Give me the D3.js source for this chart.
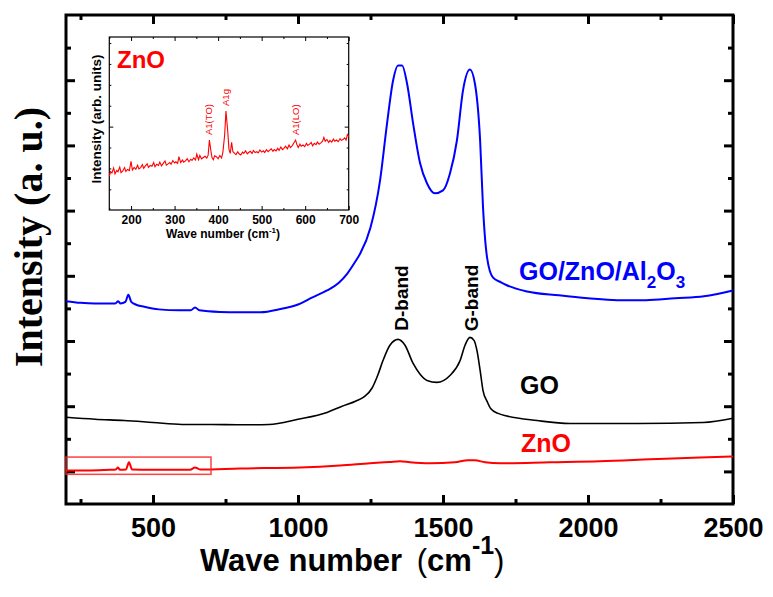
<!DOCTYPE html>
<html>
<head>
<meta charset="utf-8">
<script src="https://cdn.jsdelivr.net/npm/d3@7"></script>
<style>
  body { margin: 0; background: #fff; }
</style>
</head>
<body>
<svg id="chart" width="773" height="597" font-family="'Liberation Sans', Arial, sans-serif"></svg>
<script>
// Raman spectra: [wave number (cm-1), intensity (a.u., offset)]
var hybridSpec = [
  [200,5.22],[250,5.17],[300,5.15],[360,5.15],[370,5.15],[380,5.22],[388,5.15],[405,5.20],
  [415,5.42],[425,5.20],[440,5.12],[470,5.05],[520,4.97],[590,4.94],[630,4.94],[645,5.03],
  [660,4.94],[730,4.89],[800,4.88],[870,4.88],[940,4.98],[1000,5.12],[1050,5.34],[1100,5.55],
  [1140,5.78],[1170,6.07],[1200,6.47],[1215,6.69],[1250,7.48],[1283,8.93],[1307,10.67],[1328,12.0],
  [1345,12.45],[1359,12.45],[1376,11.9],[1397,10.67],[1421,9.45],[1445,8.83],[1472,8.53],
  [1500,8.62],[1524,9.14],[1548,10.15],[1569,11.69],[1593,12.33],[1610,11.9],[1628,10.15],
  [1638,8.10],[1652,6.56],[1672,5.95],[1700,5.80],[1720,5.71],[1790,5.52],[1900,5.40],
  [2000,5.31],[2100,5.25],[2200,5.25],[2300,5.31],[2400,5.37],[2500,5.55]
];
var goSpec = [
  [200,1.66],[300,1.60],[400,1.56],[500,1.50],[600,1.44],[700,1.44],[800,1.43],[900,1.44],
  [1000,1.60],[1100,1.81],[1150,1.99],[1200,2.16],[1230,2.30],[1255,2.55],[1275,2.95],[1293,3.40],
  [1317,3.87],[1345,4.05],[1369,3.87],[1397,3.31],[1421,2.98],[1445,2.79],[1479,2.73],
  [1524,2.94],[1559,3.40],[1576,3.87],[1593,4.11],[1607,4.02],[1617,3.71],[1628,3.10],
  [1638,2.48],[1652,2.15],[1665,1.92],[1690,1.78],[1720,1.70],[1824,1.56],[1938,1.47],[2169,1.47],
  [2397,1.50],[2500,1.63]
];
var znoSpec = [
  [200,0.03],[283,0.03],[352,0.05],[372,0.06],[379,0.12],[386,0.05],[407,0.06],[417,0.28],
  [428,0.06],[490,0.05],[628,0.05],[645,0.12],[662,0.06],[800,0.09],[1007,0.12],[1145,0.18],
  [1248,0.25],[1317,0.29],[1352,0.31],[1386,0.28],[1455,0.25],[1541,0.28],[1586,0.34],
  [1610,0.34],[1645,0.28],[1697,0.25],[1869,0.28],[2041,0.31],[2214,0.37],[2386,0.43],[2500,0.46]
];
// inset: ZnO low wave number region
var znoInset = [
  [150,2.62],[153,2.85],[156,2.78],[160,3.02],[163,2.74],[167,2.90],[170,2.84],[174,3.06],
  [177,2.80],[181,2.88],[185,3.04],[188,2.86],[192,2.95],[196,2.90],[200,3.34],[203,2.92],
  [207,3.05],[211,2.96],[215,3.15],[218,2.98],[222,3.04],[226,3.18],[229,3.00],[233,3.12],
  [237,3.22],[240,3.05],[244,3.14],[248,3.10],[252,3.28],[255,3.08],[259,3.20],[263,3.14],
  [266,3.30],[270,3.12],[274,3.24],[278,3.36],[281,3.16],[285,3.22],[289,3.28],[292,3.20],
  [296,3.38],[300,3.26],[303,3.32],[307,3.24],[310,3.56],[314,3.28],[318,3.40],[321,3.30],
  [325,3.36],[329,3.46],[333,3.32],[337,3.44],[340,3.38],[344,3.50],[348,3.40],[351,3.68],
  [355,3.42],[358,3.62],[362,3.46],[366,3.52],[370,3.58],[374,3.50],[377,3.62],[380,4.36],
  [383,3.90],[386,3.52],[389,3.42],[392,3.60],[396,3.56],[400,3.46],[404,3.62],[408,3.50],
  [411,3.78],[415,4.60],[418,5.75],[422,4.80],[425,3.90],[428,3.72],[431,4.25],[434,3.80],
  [438,3.72],[441,3.66],[445,3.80],[448,3.70],[452,3.64],[456,3.78],[459,3.72],[463,3.84],
  [467,3.70],[470,3.76],[474,3.82],[478,3.72],[481,3.86],[485,3.76],[489,3.80],[492,3.74],
  [496,3.88],[500,3.78],[504,3.84],[507,3.76],[511,3.90],[515,3.80],[518,3.86],[522,3.94],
  [526,3.82],[529,3.90],[533,3.84],[537,3.96],[540,3.86],[544,4.02],[548,3.90],[551,3.96],
  [555,4.06],[559,3.94],[563,4.12],[566,4.00],[570,4.08],[574,4.22],[578,4.36],[581,4.14],
  [584,4.00],[588,4.16],[591,4.06],[595,4.12],[599,4.04],[603,4.20],[606,4.10],[610,4.16],
  [614,4.24],[617,4.08],[621,4.20],[625,4.14],[628,4.26],[632,4.16],[636,4.22],[640,4.30],
  [643,4.48],[646,4.30],[650,4.38],[654,4.24],[657,4.34],[661,4.26],[665,4.40],[668,4.30],
  [672,4.36],[676,4.28],[680,4.42],[683,4.34],[687,4.38],[691,4.46],[694,4.36],[697,4.62],[700,4.52]
];

var xMajor = [500, 1000, 1500, 2000, 2500];
var xMinor = [250, 750, 1250, 1750, 2250];
var yMajor = [0, 2, 4, 6, 8, 10, 12];
var yMinor = [1, 3, 5, 7, 9, 11, 13];
var insetXMajor = [200, 300, 400, 500, 600, 700];
var insetXMinor = [150, 250, 350, 450, 550, 650];
var insetYMajor = [5];
var insetYMinor = [2, 3, 4, 6, 7, 8, 9];
var insetPeaks = [
  {label: "A1(TO)", w: 380, v: 4.36},
  {label: "A1g", w: 418, v: 5.75},
  {label: "A1(LO)", w: 578, v: 4.36}
];
var zoomBox = {w0: 200, w1: 700, v0: -0.09, v1: 0.44};

var svg = d3.select("#chart");

var x = d3.scaleLinear().domain([200, 2500]).range([66, 733]);
var y = d3.scaleLinear().domain([-1, 14]).range([504, 15]);

function styleAxis(g, w) {
  g.select(".domain").remove();
  g.selectAll("line").attr("stroke", "#000").attr("stroke-width", w);
}

// main axes, ticks pointing inward
svg.append("g").attr("transform", "translate(0,504)")
  .call(d3.axisBottom(x).tickValues(xMajor).tickSize(-9).tickPadding(14).tickFormat(d3.format("d")))
  .call(styleAxis, 3)
  .selectAll("text").attr("font-size", 27).attr("font-weight", "bold").attr("fill", "#000")
  .attr("font-family", "'Liberation Sans', Arial, sans-serif");
svg.append("g").attr("transform", "translate(0,504)")
  .call(d3.axisBottom(x).tickValues(xMinor).tickSize(-5).tickFormat(""))
  .call(styleAxis, 3);
svg.append("g").attr("transform", "translate(0,15)")
  .call(d3.axisTop(x).tickValues(xMajor).tickSize(-9).tickFormat(""))
  .call(styleAxis, 3);
svg.append("g").attr("transform", "translate(0,15)")
  .call(d3.axisTop(x).tickValues(xMinor).tickSize(-5).tickFormat(""))
  .call(styleAxis, 3);
svg.append("g").attr("transform", "translate(66,0)")
  .call(d3.axisLeft(y).tickValues(yMajor).tickSize(-9).tickFormat(""))
  .call(styleAxis, 3);
svg.append("g").attr("transform", "translate(66,0)")
  .call(d3.axisLeft(y).tickValues(yMinor).tickSize(-5).tickFormat(""))
  .call(styleAxis, 3);
svg.append("g").attr("transform", "translate(733,0)")
  .call(d3.axisRight(y).tickValues(yMajor).tickSize(-9).tickFormat(""))
  .call(styleAxis, 3);
svg.append("g").attr("transform", "translate(733,0)")
  .call(d3.axisRight(y).tickValues(yMinor).tickSize(-5).tickFormat(""))
  .call(styleAxis, 3);

svg.append("rect")
  .attr("x", 66).attr("y", 15).attr("width", 733 - 66).attr("height", 504 - 15)
  .attr("fill", "none").attr("stroke", "#000").attr("stroke-width", 3);

// spectra
var line = d3.line()
  .x(function(d) { return x(d[0]); })
  .y(function(d) { return y(d[1]); })
  .curve(d3.curveMonotoneX);

svg.append("path").datum(hybridSpec).attr("d", line)
  .attr("fill", "none").attr("stroke", "#0000ff").attr("stroke-width", 2);
svg.append("path").datum(goSpec).attr("d", line)
  .attr("fill", "none").attr("stroke", "#000").attr("stroke-width", 1.6);
svg.append("path").datum(znoSpec).attr("d", line)
  .attr("fill", "none").attr("stroke", "#ff0000").attr("stroke-width", 2);

svg.append("rect")
  .attr("x", x(zoomBox.w0)).attr("y", y(zoomBox.v1))
  .attr("width", x(zoomBox.w1) - x(zoomBox.w0)).attr("height", y(zoomBox.v0) - y(zoomBox.v1))
  .attr("fill", "none").attr("stroke", "#ff2020").attr("stroke-opacity", 0.85).attr("stroke-width", 1.5);

// series labels
var lab = svg.append("text").attr("x", 519).attr("y", 280)
  .attr("font-size", 25).attr("font-weight", "bold").attr("fill", "#0000ff");
lab.append("tspan").text("GO/ZnO/Al");
lab.append("tspan").text("2").attr("font-size", 17).attr("dy", 8);
lab.append("tspan").text("O").attr("dy", -8);
lab.append("tspan").text("3").attr("font-size", 17).attr("dy", 8);

svg.append("text").attr("x", 520).attr("y", 394).text("GO")
  .attr("font-size", 25).attr("font-weight", "bold").attr("fill", "#000");
svg.append("text").attr("x", 521).attr("y", 452).text("ZnO")
  .attr("font-size", 25).attr("font-weight", "bold").attr("fill", "#ff0000");

svg.append("text").attr("transform", "translate(408,298) rotate(-90)")
  .attr("text-anchor", "middle").attr("font-size", 19).attr("font-weight", "bold").text("D-band");
svg.append("text").attr("transform", "translate(478,298) rotate(-90)")
  .attr("text-anchor", "middle").attr("font-size", 19).attr("font-weight", "bold").text("G-band");

// axis titles
svg.append("text").attr("transform", "translate(42,237) rotate(-90)")
  .attr("text-anchor", "middle").attr("font-size", 40).attr("font-weight", "bold")
  .attr("font-family", "'Liberation Serif', 'Times New Roman', serif")
  .text("Intensity (a. u.)");

var xt = svg.append("text").attr("x", 200).attr("y", 571)
  .attr("font-size", 31).attr("font-weight", "bold").attr("fill", "#000");
xt.append("tspan").text("Wave number ");
xt.append("tspan").text("(").attr("font-weight", "normal").attr("dx", 6);
xt.append("tspan").text("cm");
xt.append("tspan").text("-1").attr("font-size", 25).attr("dy", -17);
xt.append("tspan").text(")").attr("font-weight", "normal").attr("dy", 17);

// ---- inset ----
var ix = d3.scaleLinear().domain([150, 700]).range([109.3, 348.7]);
var iy = d3.scaleLinear().domain([1.01, 9.29]).range([210, 37]);
var inset = svg.append("g");

inset.append("rect").attr("x", 109.3).attr("y", 37).attr("width", 348.7 - 109.3).attr("height", 210 - 37)
  .attr("fill", "#fff");

inset.append("g").attr("transform", "translate(0,210)")
  .call(d3.axisBottom(ix).tickValues(insetXMajor).tickSize(-4).tickPadding(5).tickFormat(d3.format("d")))
  .call(styleAxis, 1)
  .selectAll("text").attr("font-size", 12).attr("font-weight", "bold").attr("fill", "#000")
  .attr("font-family", "'Liberation Sans', Arial, sans-serif");
inset.append("g").attr("transform", "translate(0,210)")
  .call(d3.axisBottom(ix).tickValues(insetXMinor).tickSize(-2).tickFormat(""))
  .call(styleAxis, 1);
inset.append("g").attr("transform", "translate(0,37)")
  .call(d3.axisTop(ix).tickValues(insetXMajor).tickSize(-4).tickFormat(""))
  .call(styleAxis, 1);
inset.append("g").attr("transform", "translate(0,37)")
  .call(d3.axisTop(ix).tickValues(insetXMinor).tickSize(-2).tickFormat(""))
  .call(styleAxis, 1);
inset.append("g").attr("transform", "translate(109.3,0)")
  .call(d3.axisLeft(iy).tickValues(insetYMajor).tickSize(-4).tickFormat(""))
  .call(styleAxis, 1);
inset.append("g").attr("transform", "translate(109.3,0)")
  .call(d3.axisLeft(iy).tickValues(insetYMinor).tickSize(-2).tickFormat(""))
  .call(styleAxis, 1);
inset.append("g").attr("transform", "translate(348.7,0)")
  .call(d3.axisRight(iy).tickValues(insetYMajor).tickSize(-4).tickFormat(""))
  .call(styleAxis, 1);
inset.append("g").attr("transform", "translate(348.7,0)")
  .call(d3.axisRight(iy).tickValues(insetYMinor).tickSize(-2).tickFormat(""))
  .call(styleAxis, 1);

inset.append("rect").attr("x", 109.3).attr("y", 37).attr("width", 348.7 - 109.3).attr("height", 210 - 37)
  .attr("fill", "none").attr("stroke", "#000").attr("stroke-width", 1.2);

var iline = d3.line()
  .x(function(d) { return ix(d[0]); })
  .y(function(d) { return iy(d[1]); });
inset.append("path").datum(znoInset).attr("d", iline)
  .attr("fill", "none").attr("stroke", "#ff0000").attr("stroke-width", 1.1);

inset.selectAll("text.peak").data(insetPeaks).enter().append("text")
  .attr("class", "peak")
  .attr("transform", function(d) { return "translate(" + (ix(d.w) + 3) + "," + (iy(d.v) - 5) + ") rotate(-90)"; })
  .attr("font-size", 9.5).attr("fill", "#ff0000")
  .text(function(d) { return d.label; });

inset.append("text").attr("x", 117).attr("y", 68).text("ZnO")
  .attr("font-size", 24).attr("font-weight", "bold").attr("fill", "#ff0000");

inset.append("text").attr("transform", "translate(101,119) rotate(-90)")
  .attr("text-anchor", "middle").attr("font-size", 13.5).attr("font-weight", "bold")
  .text("Intensity (arb. units)");

var ixt = inset.append("text").attr("x", 166).attr("y", 238)
  .attr("font-size", 12).attr("font-weight", "bold");
ixt.append("tspan").text("Wave number  (cm");
ixt.append("tspan").text("-1").attr("font-size", 8).attr("dy", -5);
ixt.append("tspan").text(")").attr("dy", 5);
</script>
</body>
</html>
